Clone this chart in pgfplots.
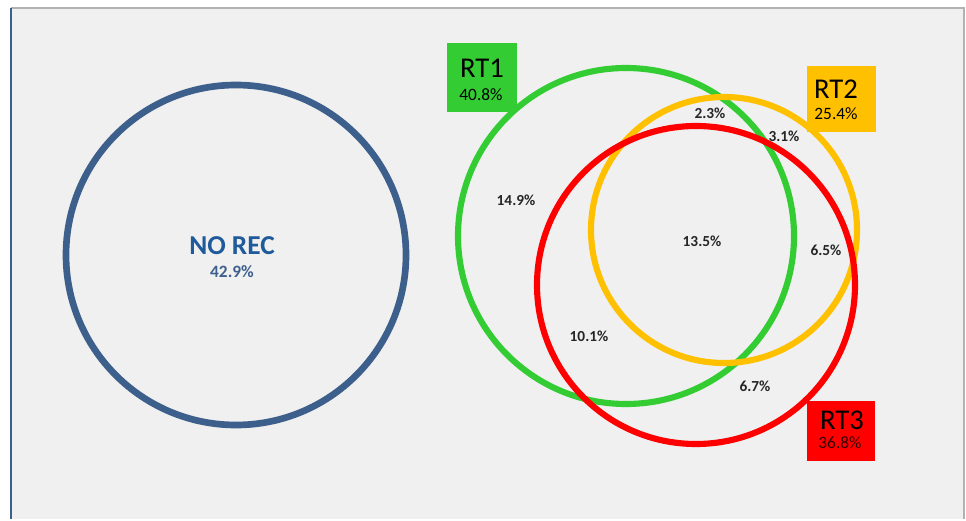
\documentclass[border=0pt]{standalone}
\usepackage{pgfplots}
\pgfplotsset{compat=1.18}
\usepackage{fontspec}
\setmainfont{Carlito}
\definecolor{bgc}{HTML}{F0F0F0}
\definecolor{norec}{HTML}{3D5F8C}
\definecolor{norectext}{HTML}{1F5A9A}
\definecolor{rtone}{HTML}{33CC33}
\definecolor{rttwo}{HTML}{FFC000}
\definecolor{rtthree}{HTML}{FF0000}
\begin{document}
\begin{tikzpicture}
\begin{axis}[
  width=724.5pt, height=389.25pt, scale only axis,
  xmin=0, xmax=966, ymin=0, ymax=519, y dir=reverse,
  hide axis, clip=false,
]
% background and frame
\fill[white] (axis cs:0,0) rectangle (axis cs:966,519);
\fill[bgc] (axis cs:11,8) rectangle (axis cs:964,519);
\draw[gray!60, line width=0.8pt] (axis cs:11,8) -- (axis cs:964,8) -- (axis cs:964,519);
\draw[norec, line width=2pt] (axis cs:11,8) -- (axis cs:11,519);
% circles: centre (px), radius r px -> mark size r*0.75pt
\addplot[only marks, mark=o, mark size=127.5pt, mark options={draw=norec, line width=5pt}] coordinates {(236,255)};
\addplot[only marks, mark=o, mark size=126pt, mark options={draw=rtone, line width=4.6pt}] coordinates {(626,236)};
\addplot[only marks, mark=o, mark size=99.75pt, mark options={draw=rttwo, line width=4.6pt}] coordinates {(724,230)};
\addplot[only marks, mark=o, mark size=119.25pt, mark options={draw=rtthree, line width=4.6pt}] coordinates {(696,285)};
% label boxes
\fill[rtone] (axis cs:447,43) rectangle (axis cs:517,112);
\fill[rttwo] (axis cs:807,66) rectangle (axis cs:876,132);
\fill[rtthree] (axis cs:807,401) rectangle (axis cs:875,461);
\node[font=\fontsize{21.5}{23}\selectfont] at (axis cs:482,68) {RT1};
\node[font=\fontsize{13}{15}\selectfont] at (axis cs:481,95) {40.8\%};
\node[font=\fontsize{21.5}{23}\selectfont] at (axis cs:836,89) {RT2};
\node[font=\fontsize{13}{15}\selectfont] at (axis cs:836,114) {25.4\%};
\node[font=\fontsize{21.5}{23}\selectfont] at (axis cs:842,420) {RT3};
\node[font=\fontsize{13}{15}\selectfont, text=black!80!red] at (axis cs:840,443) {36.8\%};
% NO REC
\node[font=\fontsize{20.5}{22}\selectfont\bfseries, text=norectext] at (axis cs:232,246) {NO REC};
\node[font=\fontsize{13}{15}\selectfont\bfseries, text=norec] at (axis cs:232,272) {42.9\%};
% region labels
\addplot[only marks, mark=none, nodes near coords, point meta=explicit symbolic,
  every node near coord/.style={anchor=center, font=\fontsize{11.5}{13}\selectfont\bfseries, text=black!85}]
  table[meta=lab] {
x y lab
710 113 2.3\%
784 136 3.1\%
516 200 14.9\%
702 241 13.5\%
826 250 6.5\%
589 336 10.1\%
755 386 6.7\%
};
\end{axis}
\end{tikzpicture}
\end{document}
